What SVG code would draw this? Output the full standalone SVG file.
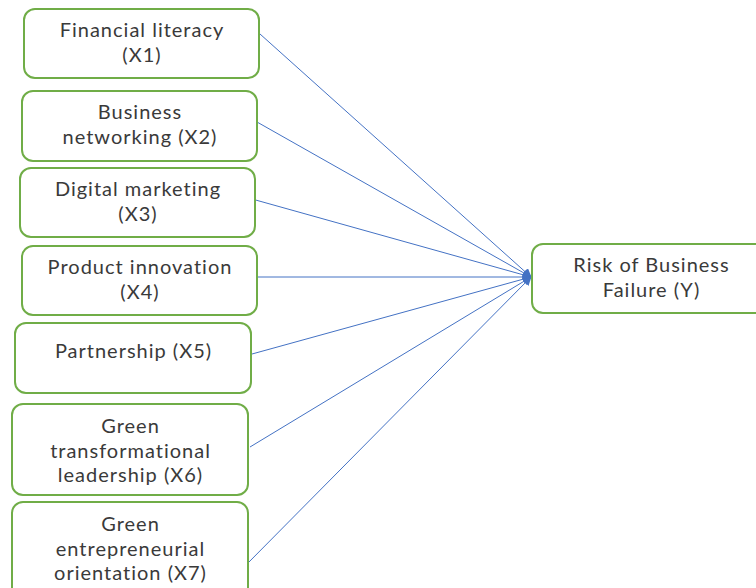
<svg xmlns="http://www.w3.org/2000/svg" width="756" height="588" viewBox="0 0 756 588">
  <defs>
    <style>
      .box { fill: #ffffff; stroke: #70AD47; stroke-width: 2; }
      .lbl { font-family: Lato, "Open Sans", sans-serif; font-size: 20px; letter-spacing: 1px; fill: #3a3a3a; text-anchor: middle; }
      .edge { stroke: #4472C4; stroke-width: 1; fill: none; marker-end: url(#arrow); }
    </style>
    <marker id="arrow" viewBox="0 0 10 10" refX="9" refY="5" markerWidth="9" markerHeight="9" markerUnits="userSpaceOnUse" orient="auto">
      <path d="M0,0 L10,5 L0,10 z" fill="#4472C4"/>
    </marker>
  </defs>
  <rect width="756" height="588" fill="#ffffff"/>

  <g id="connectors">
    <line class="edge" x1="260" y1="34" x2="531" y2="277"/>
    <line class="edge" x1="257" y1="122" x2="531" y2="277"/>
    <line class="edge" x1="252" y1="199" x2="531" y2="277"/>
    <line class="edge" x1="258" y1="277" x2="531" y2="277"/>
    <line class="edge" x1="252" y1="354" x2="531" y2="277"/>
    <line class="edge" x1="250" y1="447" x2="531" y2="277"/>
    <line class="edge" x1="246" y1="565" x2="531" y2="277"/>
  </g>

  <g id="x1">
    <rect class="box" x="24" y="9" width="235" height="69" rx="11"/>
    <text class="lbl" x="142" y="37">Financial literacy</text>
    <text class="lbl" x="142" y="62">(X1)</text>
  </g>
  <g id="x2">
    <rect class="box" x="22" y="91" width="235" height="70" rx="11"/>
    <text class="lbl" x="140" y="119">Business</text>
    <text class="lbl" x="140" y="144">networking (X2)</text>
  </g>
  <g id="x3">
    <rect class="box" x="20" y="168" width="235" height="69" rx="11"/>
    <text class="lbl" x="138" y="196">Digital marketing</text>
    <text class="lbl" x="138" y="221">(X3)</text>
  </g>
  <g id="x4">
    <rect class="box" x="22" y="246" width="235" height="69" rx="11"/>
    <text class="lbl" x="140" y="274">Product innovation</text>
    <text class="lbl" x="140" y="299">(X4)</text>
  </g>
  <g id="x5">
    <rect class="box" x="15" y="323" width="236" height="70" rx="11"/>
    <text class="lbl" x="133.5" y="358">Partnership (X5)</text>
  </g>
  <g id="x6">
    <rect class="box" x="12" y="404" width="236" height="91" rx="11"/>
    <text class="lbl" x="130.5" y="433">Green</text>
    <text class="lbl" x="130.5" y="458">transformational</text>
    <text class="lbl" x="130.5" y="482">leadership (X6)</text>
  </g>
  <g id="x7">
    <rect class="box" x="12" y="502" width="236" height="100" rx="11"/>
    <text class="lbl" x="130.5" y="531">Green</text>
    <text class="lbl" x="130.5" y="556">entrepreneurial</text>
    <text class="lbl" x="130.5" y="580">orientation (X7)</text>
  </g>
  <g id="y">
    <rect class="box" x="532" y="244" width="240" height="69" rx="11"/>
    <text class="lbl" x="651.5" y="272">Risk of Business</text>
    <text class="lbl" x="651.5" y="297">Failure (Y)</text>
  </g>
</svg>
